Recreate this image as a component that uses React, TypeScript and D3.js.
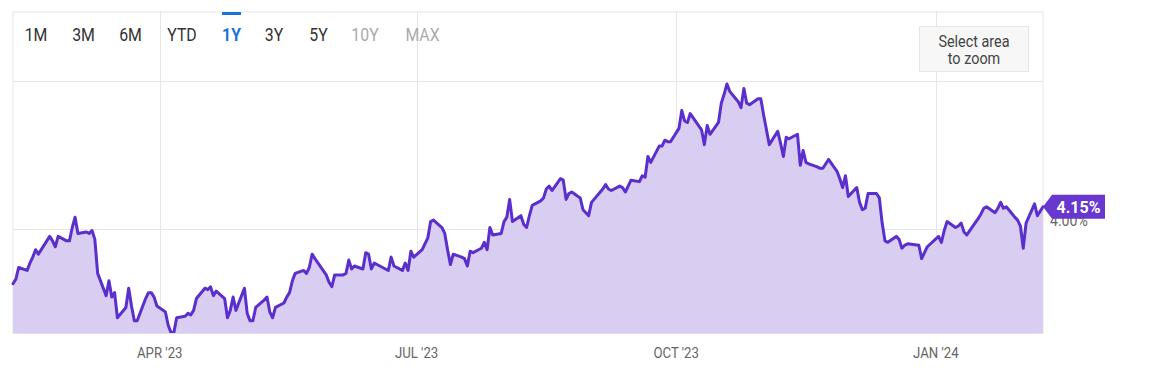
import React from 'react';
import * as d3 from 'd3';

// ---- data ----
const tradeDates: string[] = [
  // Feb 2023
  '2023-02-08','2023-02-09','2023-02-10','2023-02-13','2023-02-14','2023-02-15','2023-02-16','2023-02-17','2023-02-21','2023-02-22','2023-02-23','2023-02-24','2023-02-27','2023-02-28',
  // Mar 2023
  '2023-03-01','2023-03-02','2023-03-03','2023-03-06','2023-03-07','2023-03-08','2023-03-09','2023-03-10','2023-03-13','2023-03-14','2023-03-15','2023-03-16','2023-03-17','2023-03-20','2023-03-21','2023-03-22','2023-03-23','2023-03-24','2023-03-27','2023-03-28','2023-03-29','2023-03-30','2023-03-31',
  // Apr 2023
  '2023-04-03','2023-04-04','2023-04-05','2023-04-06','2023-04-07','2023-04-10','2023-04-11','2023-04-12','2023-04-13','2023-04-14','2023-04-17','2023-04-18','2023-04-19','2023-04-20','2023-04-21','2023-04-24','2023-04-25','2023-04-26','2023-04-27','2023-04-28',
  // May 2023
  '2023-05-01','2023-05-02','2023-05-03','2023-05-04','2023-05-05','2023-05-08','2023-05-09','2023-05-10','2023-05-11','2023-05-12','2023-05-15','2023-05-16','2023-05-17','2023-05-18','2023-05-19','2023-05-22','2023-05-23','2023-05-24','2023-05-25','2023-05-26','2023-05-30','2023-05-31',
  // Jun 2023
  '2023-06-01','2023-06-02','2023-06-05','2023-06-06','2023-06-07','2023-06-08','2023-06-09','2023-06-12','2023-06-13','2023-06-14','2023-06-15','2023-06-16','2023-06-20','2023-06-21','2023-06-22','2023-06-23','2023-06-26','2023-06-27','2023-06-28','2023-06-29','2023-06-30',
  // Jul 2023
  '2023-07-03','2023-07-05','2023-07-06','2023-07-07','2023-07-10','2023-07-11','2023-07-12','2023-07-13','2023-07-14','2023-07-17','2023-07-18','2023-07-19','2023-07-20','2023-07-21','2023-07-24','2023-07-25','2023-07-26','2023-07-27','2023-07-28','2023-07-31',
  // Aug 2023
  '2023-08-01','2023-08-02','2023-08-03','2023-08-04','2023-08-07','2023-08-08','2023-08-09','2023-08-10','2023-08-11','2023-08-14','2023-08-15','2023-08-16','2023-08-17','2023-08-18','2023-08-21','2023-08-22','2023-08-23','2023-08-24','2023-08-25','2023-08-28','2023-08-29','2023-08-30','2023-08-31',
  // Sep 2023
  '2023-09-01','2023-09-05','2023-09-06','2023-09-07','2023-09-08','2023-09-11','2023-09-12','2023-09-13','2023-09-14','2023-09-15','2023-09-18','2023-09-19','2023-09-20','2023-09-21','2023-09-22','2023-09-25','2023-09-26','2023-09-27','2023-09-28','2023-09-29',
  // Oct 2023
  '2023-10-02','2023-10-03','2023-10-04','2023-10-05','2023-10-06','2023-10-10','2023-10-11','2023-10-12','2023-10-13','2023-10-16','2023-10-17','2023-10-18','2023-10-19','2023-10-20','2023-10-23','2023-10-24','2023-10-25','2023-10-26','2023-10-27','2023-10-30','2023-10-31',
  // Nov 2023
  '2023-11-01','2023-11-02','2023-11-03','2023-11-06','2023-11-07','2023-11-08','2023-11-09','2023-11-10','2023-11-13','2023-11-14','2023-11-15','2023-11-16','2023-11-17','2023-11-20','2023-11-21','2023-11-22','2023-11-24','2023-11-27','2023-11-28','2023-11-29','2023-11-30',
  // Dec 2023
  '2023-12-01','2023-12-04','2023-12-05','2023-12-06','2023-12-07','2023-12-08','2023-12-11','2023-12-12','2023-12-13','2023-12-14','2023-12-15','2023-12-18','2023-12-19','2023-12-20','2023-12-21','2023-12-22','2023-12-26','2023-12-27','2023-12-28','2023-12-29',
  // Jan 2024
  '2024-01-02','2024-01-03','2024-01-04','2024-01-05','2024-01-08','2024-01-09','2024-01-10','2024-01-11','2024-01-12','2024-01-16','2024-01-17','2024-01-18','2024-01-19','2024-01-22','2024-01-23','2024-01-24','2024-01-25','2024-01-26','2024-01-29','2024-01-30','2024-01-31',
  // Feb 2024
  '2024-02-01','2024-02-02','2024-02-05','2024-02-06','2024-02-07','2024-02-08',
];

const yields: number[] = [
  // Feb 2023
  3.63,3.66,3.74,3.72,3.77,3.81,3.86,3.83,3.95,3.92,3.88,3.95,3.92,3.92,
  // Mar 2023
  4.01,4.08,3.97,3.98,3.97,3.99,3.93,3.70,3.55,3.65,3.54,3.57,3.40,3.47,3.60,3.48,3.38,3.38,3.53,3.57,3.57,3.54,3.48,
  // Apr 2023
  3.44,3.35,3.30,3.30,3.40,3.41,3.43,3.42,3.45,3.53,3.60,3.59,3.61,3.55,3.58,3.53,3.40,3.45,3.54,3.45,
  // May 2023
  3.60,3.43,3.38,3.38,3.47,3.52,3.54,3.44,3.40,3.47,3.50,3.54,3.57,3.65,3.70,3.72,3.70,3.74,3.83,3.80,3.69,3.64,
  // Jun 2023
  3.61,3.69,3.69,3.70,3.79,3.73,3.75,3.73,3.84,3.83,3.73,3.77,3.73,3.72,3.81,3.75,3.72,3.77,3.72,3.85,3.81,
  // Jul 2023
  3.86,3.94,4.05,4.06,4.01,3.97,3.86,3.76,3.83,3.81,3.80,3.75,3.85,3.84,3.87,3.91,3.86,4.01,3.96,3.97,
  // Aug 2023
  4.05,4.08,4.20,4.05,4.09,4.03,4.01,4.09,4.16,4.19,4.21,4.27,4.29,4.26,4.34,4.33,4.20,4.24,4.25,4.21,4.13,4.11,4.09,
  // Sep 2023
  4.18,4.27,4.30,4.27,4.26,4.29,4.28,4.25,4.29,4.33,4.32,4.36,4.35,4.49,4.45,4.56,4.56,4.60,4.59,4.59,
  // Oct 2023
  4.68,4.80,4.73,4.72,4.78,4.67,4.57,4.70,4.64,4.72,4.85,4.91,4.98,4.93,4.86,4.82,4.95,4.85,4.84,4.88,4.88,
  // Nov 2023
  4.77,4.67,4.57,4.66,4.58,4.49,4.62,4.61,4.64,4.43,4.53,4.45,4.44,4.42,4.41,4.41,4.47,4.39,4.34,4.28,4.36,
  // Dec 2023
  4.22,4.28,4.18,4.13,4.14,4.24,4.24,4.21,4.04,3.92,3.91,3.95,3.93,3.87,3.89,3.90,3.89,3.80,3.84,3.88,
  // Jan 2024
  3.95,3.91,3.99,4.05,4.01,4.02,4.04,3.98,3.96,4.07,4.10,4.14,4.15,4.11,4.14,4.18,4.14,4.15,4.08,4.06,4.02,
  // Feb 2024
  3.87,4.04,4.17,4.09,4.12,4.15,
];

const rangeButtons = ['1M', '3M', '6M', 'YTD', '1Y', '3Y', '5Y', '10Y', 'MAX'];
const activeButton = '1Y';
const disabledButtons = ['10Y', 'MAX'];
const xTickDates = ['2023-04-01', '2023-07-01', '2023-10-01', '2024-01-01'];
const xTickLabels = ["APR '23", "JUL '23", "OCT '23", "JAN '24"];
const yGridValues = [4, 5];
const yTickLabels = ['4.00%'];
const yTickLabelValues = [4];
const lastValueLabel = '4.15%';
const zoomHint = ['Select area', 'to zoom'];

// ---- layout ----
const W = 1155;
const H = 370;
const left = 13;
const right = 1043;
const top = 12;
const bottom = 333;
const buttonCenters = [36, 83.5, 130.5, 182, 231.5, 274, 318.5, 365, 422.5];

const parse = d3.timeParse('%Y-%m-%d');

export default function App() {
  const data = tradeDates.map((d, i) => ({ date: parse(d) as Date, v: yields[i] }));
  const x = d3
    .scaleTime()
    .domain([parse('2023-02-08') as Date, parse('2024-02-08') as Date])
    .range([left, right]);
  const y = d3.scaleLinear().domain([4, 5]).range([229, 81]);

  const area = d3
    .area<{ date: Date; v: number }>()
    .x((d) => x(d.date))
    .y0(bottom)
    .y1((d) => y(d.v));
  const line = d3
    .line<{ date: Date; v: number }>()
    .x((d) => x(d.date))
    .y((d) => y(d.v));

  const last = data[data.length - 1];
  const lx = x(last.date);
  const ly = y(last.v);

  const font = 'Roboto, "Noto Sans", sans-serif';

  return (
    <svg
      width={W}
      height={H}
      style={{ position: 'absolute', left: 0, top: 0, background: '#fff' }}
      fontFamily={font}
    >
      {/* frame */}
      <rect x={left} y={top} width={right - left} height={bottom - top} fill="#fff" stroke="#e6e6e6" strokeWidth={1} />
      {/* vertical grid */}
      {xTickDates.map((d) => {
        const gx = Math.round(x(parse(d) as Date)) + 0.5;
        return <line key={d} x1={gx} x2={gx} y1={top} y2={bottom} stroke="#e6e6e6" strokeWidth={1} />;
      })}
      {/* horizontal grid */}
      {yGridValues.map((v) => {
        const gy = Math.round(y(v)) + 0.5;
        return <line key={v} x1={left} x2={right} y1={gy} y2={gy} stroke="#e6e6e6" strokeWidth={1} />;
      })}
      {/* area + line */}
      <path d={area(data) || ''} fill="#d9cef2" />
      <path d={line(data) || ''} fill="none" stroke="#5b2fcc" strokeWidth={3} strokeLinejoin="round" strokeLinecap="round" />
      {/* bottom axis line */}
      <line x1={left} x2={right} y1={bottom + 0.5} y2={bottom + 0.5} stroke="#e2dcef" strokeWidth={1} />

      {/* x tick labels */}
      {xTickDates.map((d, i) => (
        <text
          key={d}
          transform={`translate(${x(parse(d) as Date)},358) scale(0.88,1)`}
          textAnchor="middle"
          fontSize={15}
          fill="#666"
        >
          {xTickLabels[i]}
        </text>
      ))}

      {/* y tick labels */}
      {yTickLabelValues.map((v, i) => (
        <text key={v} transform={`translate(1050,${y(v) - 3}) scale(0.88,1)`} fontSize={16} fill="#666">
          {yTickLabels[i]}
        </text>
      ))}

      {/* last value badge */}
      <path
        d={`M${lx},${ly} L${lx + 9},${ly - 12} H${lx + 62} V${ly + 12} H${lx + 9} Z`}
        fill="#6737d0"
      />
      <text x={lx + 35.5} y={ly + 6} textAnchor="middle" fontSize={16} fontWeight={700} fill="#fff">
        {lastValueLabel}
      </text>

      {/* range selector */}
      {rangeButtons.map((b, i) => {
        const active = b === activeButton;
        const disabled = disabledButtons.includes(b);
        return (
          <g key={b}>
            {active && <rect x={buttonCenters[i] - 9.5} y={top} width={19} height={3} fill="#1a73d6" />}
            <text
              transform={`translate(${buttonCenters[i]},41) scale(0.88,1)`}
              textAnchor="middle"
              fontSize={18}
              fontWeight={active ? 700 : 400}
              fill={active ? '#1a73d6' : disabled ? '#aaa' : '#333'}
            >
              {b}
            </text>
          </g>
        );
      })}

      {/* zoom hint box */}
      <rect x={919.5} y={26.5} width={109} height={45} fill="#f7f7f7" stroke="#e6e6e6" strokeWidth={1} />
      {zoomHint.map((t, i) => (
        <text
          key={t}
          transform={`translate(974,${47 + i * 17}) scale(0.9,1)`}
          textAnchor="middle"
          fontSize={16}
          fill="#444"
        >
          {t}
        </text>
      ))}
    </svg>
  );
}
